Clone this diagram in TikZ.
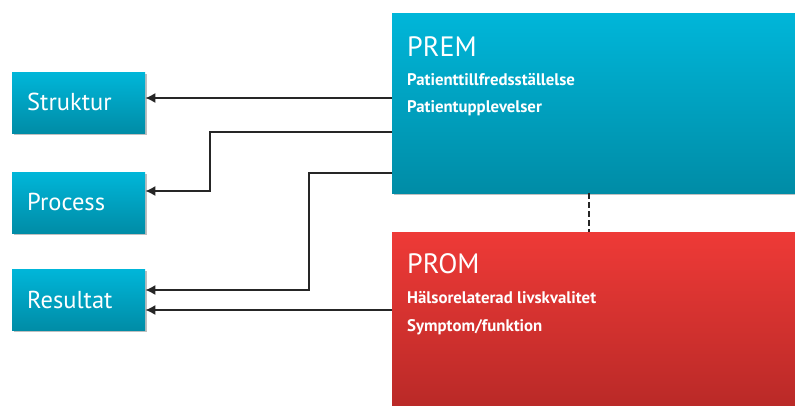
\documentclass[tikz,border=0pt]{standalone}
\usepackage{fontspec}
\setmainfont{PT Sans}
\usetikzlibrary{arrows.meta,shadows}
\definecolor{cyantop}{HTML}{00B6D9}
\definecolor{cyanbot}{HTML}{008CA6}
\definecolor{redtop}{HTML}{EE3A37}
\definecolor{redbot}{HTML}{B52826}
\tikzset{
  bluebox/.style={rectangle, anchor=north west, shading=axis, top color=cyantop, bottom color=cyanbot, draw=none,
    drop shadow={shadow xshift=1.5pt, shadow yshift=-2pt, opacity=0.25, fill=black}},
  redbox/.style={rectangle, anchor=north west, shading=axis, top color=redtop, bottom color=redbot, draw=none,
    drop shadow={shadow xshift=1.5pt, shadow yshift=-2pt, opacity=0.25, fill=black}},
  smallbox/.style={bluebox, minimum width=133pt, minimum height=61pt, inner sep=0pt},
  lbl/.style={text=white, font=\fontsize{24.5}{28}\selectfont, anchor=base west, inner sep=0pt},
  title/.style={text=white, font=\fontsize{28}{32}\selectfont, anchor=base west, inner sep=0pt},
  sub/.style={text=white, font=\bfseries\fontsize{16.8}{19}\selectfont, anchor=base west, inner sep=0pt},
  conn/.style={line width=1.3pt, draw=black!85, -{Latex[length=10pt,width=10pt]}}
}
\begin{document}
\begin{tikzpicture}[x=1pt,y=-1pt]
\useasboundingbox (0,0) rectangle (795,405);
\clip (0,0) rectangle (795,405);
% left boxes
\node[smallbox] (struktur) at (12,72) {};
\node[smallbox] (process) at (12,172) {};
\node[smallbox] (resultat) at (12,269) {};
\node[lbl] at (27,110) {Struktur};
\node[lbl] at (27,210) {Process};
\node[lbl] at (27,308) {Resultat};
% big boxes
\node[bluebox, minimum width=420pt, minimum height=180pt, inner sep=0pt] (prem) at (392,13) {};
\node[redbox, minimum width=420pt, minimum height=190pt, inner sep=0pt] (prom) at (392,232) {};
\node[title] (premt) at (407,56) {PREM};
\node[sub] (prem1) at (407,85) {Patienttillfredsställelse};
\node[sub] (prem2) at (407,112) {Patientupplevelser};
\node[title] (promt) at (407,273) {PROM};
\node[sub] (prom1) at (407,303) {Hälsorelaterad livskvalitet};
\node[sub] (prom2) at (407,331) {Symptom/funktion};
% dashed connector
\draw[line width=1.2pt, black!85, dash pattern=on 6pt off 3pt] (prem.south west) ++(197,0) coordinate (d1) -- (d1 |- prom.north);
% connectors
\draw[conn] (prem.west |- 0,98) -- (struktur.east |- 0,98);
\draw[conn] (prem.west |- 0,132) -| (210,191) -- (process.east |- 0,191);
\draw[conn] (prem.west |- 0,173) -| (309,290) -- (resultat.east |- 0,290);
\draw[conn] (prom.west |- 0,310) -- (resultat.east |- 0,310);
\end{tikzpicture}
\end{document}
